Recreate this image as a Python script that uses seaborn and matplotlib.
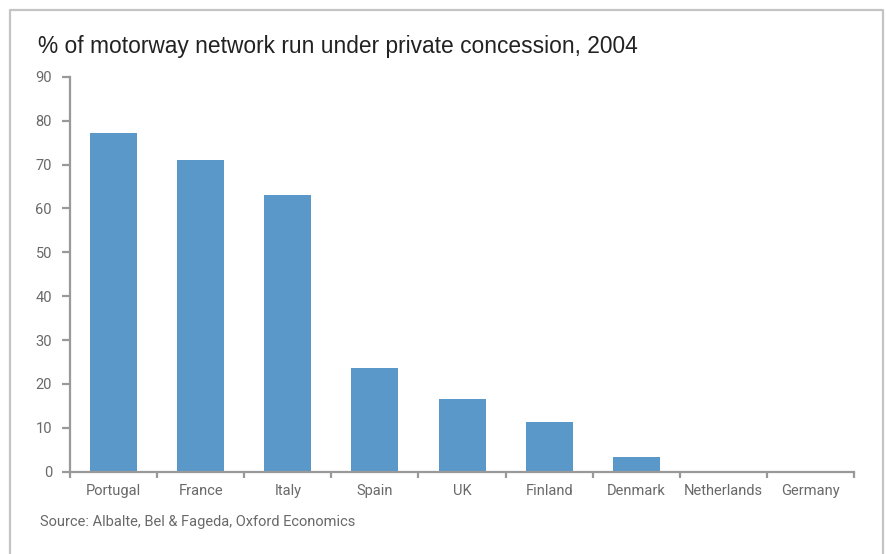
import matplotlib
matplotlib.use("Agg")
import matplotlib.pyplot as plt
from matplotlib.lines import Line2D
import seaborn as sns
import pandas as pd

countries = ["Portugal", "France", "Italy", "Spain", "UK", "Finland",
             "Denmark", "Netherlands", "Germany"]
share_private = [77.2, 71.1, 63.1, 23.6, 16.6, 11.3, 3.3, 0.0, 0.0]
y_ticks = [0, 10, 20, 30, 40, 50, 60, 70, 80, 90]

title = "% of motorway network run under private concession, 2004"
source = "Source: Albalte, Bel & Fageda, Oxford Economics"

bar_color = "#5a98c9"
axis_color = "#999999"
label_color = "#696969"
narrow = ["Roboto", "DejaVu Sans"]

sns.set_theme(style="white")
plt.rcParams["font.family"] = ["Liberation Sans", "DejaVu Sans"]

df = pd.DataFrame({"country": countries, "share": share_private})

fig = plt.figure(figsize=(8.86, 5.54), dpi=100)
ax = fig.add_axes([0.079, 0.1485, 0.885, 0.7129])

sns.barplot(data=df, x="country", y="share", color=bar_color,
            saturation=1, width=0.54, linewidth=0, ax=ax)

ax.set_xlim(-0.5, len(countries) - 0.5)
ax.set_ylim(0, 90)
ax.set_yticks(y_ticks)
ax.set_xlabel("")
ax.set_ylabel("")

for side in ("top", "right"):
    ax.spines[side].set_visible(False)
for side in ("left", "bottom"):
    ax.spines[side].set_color(axis_color)
    ax.spines[side].set_linewidth(1.6)

# category labels on major ticks, tick marks on the category boundaries
ax.set_xticks(range(len(countries)))
ax.set_xticklabels(countries, family=narrow, fontsize=10.5, color=label_color)
ax.set_xticks([i - 0.5 for i in range(len(countries) + 1)], minor=True)
ax.tick_params(axis="x", which="major", length=0, pad=9)
ax.tick_params(axis="x", which="minor", length=4.5, width=1.6,
               color=axis_color, direction="out", bottom=True)
ax.tick_params(axis="y", which="major", length=6, width=1.6,
               color=axis_color, direction="out", left=True, pad=7)
for lab in ax.get_yticklabels():
    lab.set_family(narrow)
    lab.set_fontsize(10.5)
    lab.set_color(label_color)

fig.text(38 / 886, 1 - 46 / 554, title, fontsize=16.4, color="#222222",
         ha="left", va="center")
fig.text(40 / 886, 1 - 522 / 554, source, family=narrow, fontsize=10.5,
         color=label_color, ha="left", va="center")

# light frame around the panel (left, top, right)
fx0, fx1 = 10 / 886, 883 / 886
fy = 1 - 10 / 554
fig.add_artist(Line2D([fx0, fx0, fx1, fx1], [0, fy, fy, 0],
                      color="#c4c4c4", linewidth=1.6, transform=fig.transFigure))

fig.savefig("out.png", dpi=100)
